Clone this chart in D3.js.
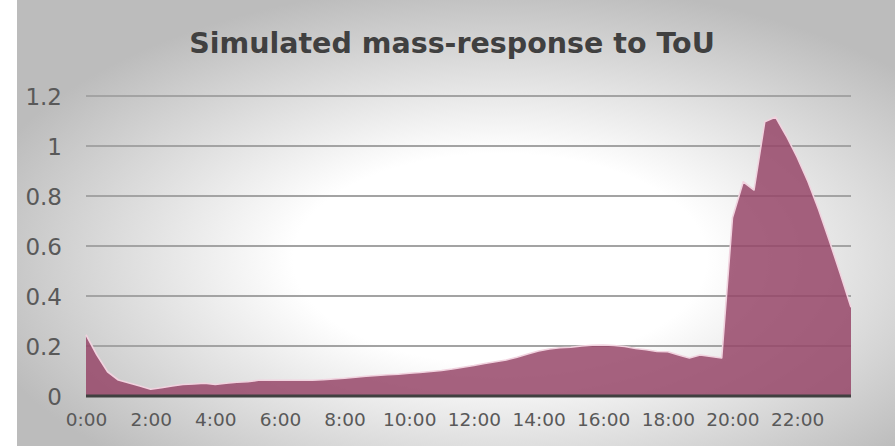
<!DOCTYPE html>
<html>
<head>
<meta charset="utf-8">
<script src="https://cdn.jsdelivr.net/npm/d3@7/dist/d3.min.js"></script>
<style>
  html, body { margin: 0; padding: 0; background: #ffffff; }
  svg { display: block; }
  text { font-family: "DejaVu Sans", Verdana, sans-serif; }
</style>
</head>
<body>
<svg id="chart" width="895" height="446"></svg>
<script>
// Simulated demand response to a time-of-use tariff, sampled every 20 minutes
const stepMinutes = 20;
const response = [
  0.245, 0.165, 0.097, 0.064, 0.052, 0.040, 0.027, 0.033, 0.040, 0.046, 0.048, 0.051,
  0.046, 0.051, 0.055, 0.057, 0.063, 0.063, 0.063, 0.063, 0.063, 0.063, 0.065, 0.068,
  0.071, 0.075, 0.079, 0.082, 0.085, 0.087, 0.091, 0.094, 0.098, 0.102, 0.108, 0.115,
  0.122, 0.130, 0.137, 0.144, 0.155, 0.168, 0.180, 0.188, 0.193, 0.195, 0.200, 0.203,
  0.204, 0.202, 0.198, 0.190, 0.185, 0.178, 0.177, 0.164, 0.152, 0.164, 0.158, 0.152,
  0.713, 0.857, 0.824, 1.097, 1.116, 1.040, 0.955, 0.858, 0.745, 0.620, 0.490, 0.355
];
const timeLabels = response.map((_, i) => {
  const m = i * stepMinutes;
  return Math.floor(m / 60) + ":" + String(m % 60).padStart(2, "0");
});
const xTickLabels = ["0:00", "2:00", "4:00", "6:00", "8:00", "10:00", "12:00",
                     "14:00", "16:00", "18:00", "20:00", "22:00"];
const yTicks = [0, 0.2, 0.4, 0.6, 0.8, 1, 1.2];
const title = "Simulated mass-response to ToU";

const svg = d3.select("#chart");
const W = 895, H = 446;
const plot = { left: 86, right: 851, top: 96, bottom: 396 };

// Background panel with a soft radial shading
const defs = svg.append("defs");
const grad = defs.append("radialGradient")
  .attr("id", "panelShade")
  .attr("cx", "0.55").attr("cy", "0.58").attr("r", "0.62")
  .attr("fx", "0.55").attr("fy", "0.58");
grad.append("stop").attr("offset", "0").attr("stop-color", "#ffffff");
grad.append("stop").attr("offset", "0.38").attr("stop-color", "#ffffff");
grad.append("stop").attr("offset", "1").attr("stop-color", "#bcbcbc");

svg.append("rect")
  .attr("x", 17).attr("y", 0)
  .attr("width", W - 17).attr("height", H)
  .attr("fill", "url(#panelShade)");

const x = d3.scalePoint()
  .domain(timeLabels)
  .range([plot.left, plot.right]);
const y = d3.scaleLinear()
  .domain([0, 1.2])
  .range([plot.bottom, plot.top]);

// Horizontal gridlines
svg.append("g")
  .selectAll("line")
  .data(yTicks.filter(d => d > 0))
  .join("line")
  .attr("x1", plot.left).attr("x2", plot.right)
  .attr("y1", d => y(d)).attr("y2", d => y(d))
  .attr("stroke", "#a3a3a3")
  .attr("stroke-width", 2);

// Filled area
const area = d3.area()
  .x((d, i) => x(timeLabels[i]))
  .y0(y(0))
  .y1(d => y(d));
svg.append("path")
  .datum(response)
  .attr("d", area)
  .attr("fill", "rgb(151,71,105)")
  .attr("fill-opacity", 0.85);

// Light outline along the top edge
const line = d3.line()
  .x((d, i) => x(timeLabels[i]))
  .y(d => y(d));
svg.append("path")
  .datum(response)
  .attr("d", line)
  .attr("fill", "none")
  .attr("stroke", "#f1d3df")
  .attr("stroke-width", 1.6)
  .attr("stroke-linejoin", "round");

// Category axis along the bottom
const xAxis = d3.axisBottom(x)
  .tickValues(xTickLabels)
  .tickSize(0)
  .tickPadding(0);
const gx = svg.append("g")
  .attr("transform", `translate(0,${plot.bottom})`)
  .call(xAxis);
gx.select(".domain")
  .attr("d", `M${plot.left},0H${plot.right}`)
  .attr("stroke", "#404040")
  .attr("stroke-width", 3.2);
gx.selectAll(".tick text")
  .attr("y", 30)
  .attr("dy", null)
  .attr("fill", "#595959")
  .style("font-size", "18.5px")
  .style("font-family", "'DejaVu Sans', Verdana, sans-serif");

// Value axis labels
const yAxis = d3.axisLeft(y)
  .tickValues(yTicks)
  .tickFormat(d3.format("~g"))
  .tickSize(0)
  .tickPadding(0);
const gy = svg.append("g")
  .attr("transform", `translate(62,0)`)
  .call(yAxis);
gy.select(".domain").remove();
gy.selectAll(".tick text")
  .attr("x", 0)
  .attr("dy", "0.36em")
  .attr("fill", "#595959")
  .style("font-size", "23px")
  .style("font-family", "'DejaVu Sans', Verdana, sans-serif");

// Title
svg.append("text")
  .attr("x", 452)
  .attr("y", 53)
  .attr("text-anchor", "middle")
  .attr("fill", "#404040")
  .style("font-size", "28.5px")
  .style("font-weight", "bold")
  .text(title);
</script>
</body>
</html>
